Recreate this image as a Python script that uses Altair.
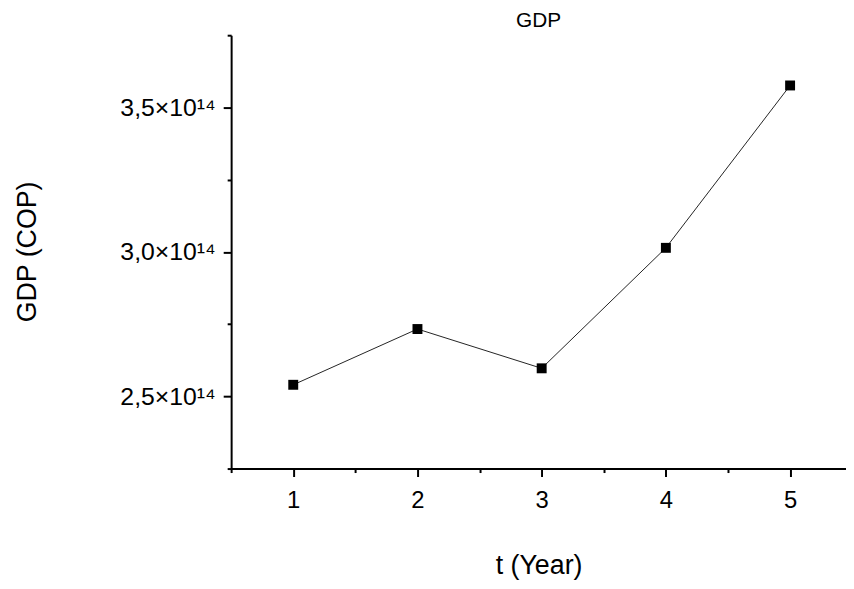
import altair as alt
import pandas as pd

years = [1, 2, 3, 4, 5]
gdp = [2.540e14, 2.733e14, 2.597e14, 3.014e14, 3.576e14]

x_major = [1, 2, 3, 4, 5]
x_minor = [0.5, 1.5, 2.5, 3.5, 4.5]
y_major = [2.5e14, 3.0e14, 3.5e14]
y_minor = [2.25e14, 2.75e14, 3.25e14, 3.75e14]

df = pd.DataFrame({"t": years, "gdp": gdp})

FONT = "Liberation Sans"

xscale = alt.Scale(domain=[0.5, 5.45], nice=False, zero=False)
yscale = alt.Scale(domain=[2.25e14, 3.75e14], nice=False, zero=False)

label_expr = "replace(format(datum.value / 1e14, '.1f'), '.', ',') + '×10¹⁴'"

x_main = alt.X("t:Q", scale=xscale, axis=alt.Axis(
    values=x_major, format="d", tickSize=8, tickWidth=2, domainWidth=2,
    labelFontSize=24, labelPadding=12, labelFont=FONT, labelColor="black",
    title="t (Year)", titleFontSize=27, titleFont=FONT, titleFontWeight="normal",
    titleY=98, titleBaseline="middle", titleColor="black", grid=False, orient="bottom"))
y_main = alt.Y("gdp:Q", scale=yscale, axis=alt.Axis(
    values=y_major, labelExpr=label_expr, tickSize=8, tickWidth=2, domainWidth=2,
    labelFontSize=25, labelPadding=8, labelFont=FONT, labelColor="black",
    title="GDP (COP)", titleFontSize=27, titleFont=FONT, titleFontWeight="normal",
    titleX=-205, titleY=218, titleAngle=-90, titleAlign="center", titleBaseline="middle",
    titleColor="black", grid=False, orient="left"))

line = alt.Chart(df).mark_line(color="#222222", strokeWidth=1).encode(x=x_main, y=y_main)
pts = alt.Chart(df).mark_square(size=100, color="black", opacity=1).encode(
    x=alt.X("t:Q", scale=xscale, axis=None),
    y=alt.Y("gdp:Q", scale=yscale, axis=None),
)

minor = alt.Chart(df).mark_point(opacity=0).encode(
    x=alt.X("t:Q", scale=xscale, axis=alt.Axis(values=x_minor, labels=False, tickSize=4, tickWidth=2,
                                               domain=False, title=None, grid=False, orient="bottom")),
    y=alt.Y("gdp:Q", scale=yscale, axis=alt.Axis(values=y_minor, labels=False, tickSize=4, tickWidth=2,
                                                 domain=False, title=None, grid=False, orient="left")),
)

chart = alt.layer(line, pts, minor).resolve_axis(x="independent", y="independent").properties(
    width=620, height=437,
    title=alt.TitleParams(text="GDP", fontSize=21, fontWeight="normal", font=FONT, color="black",
                          offset=3, baseline="top"),
    autosize=alt.AutoSizeParams(type="none"),
    padding={"left": 225, "top": 25, "right": 0, "bottom": 118},
).configure_view(stroke=None).configure_axis(domainColor="black", tickColor="black")

chart.save("out.html", embed_options={"renderer": "svg", "actions": False})
